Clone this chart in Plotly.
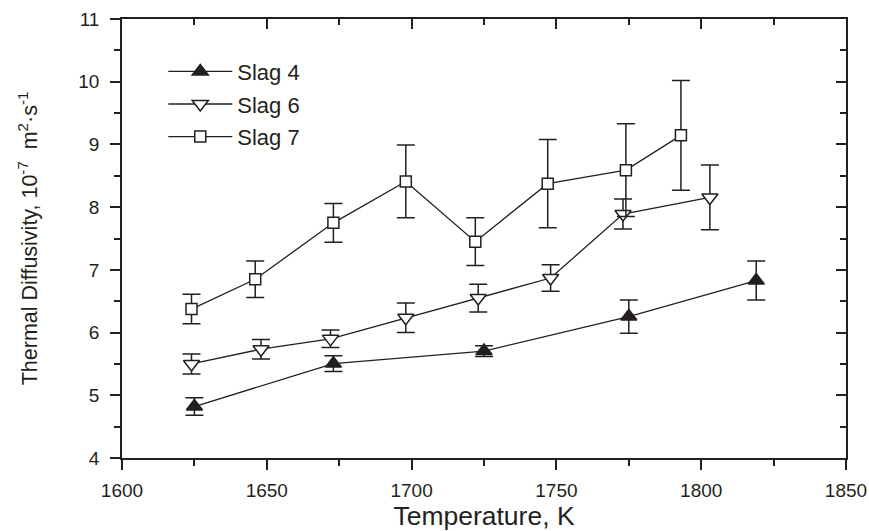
import plotly.graph_objects as go

# ---- data ----
T4 = [1625, 1673, 1725, 1775, 1819]
D4 = [4.82, 5.505, 5.705, 6.255, 6.83]
E4 = [0.14, 0.125, 0.085, 0.265, 0.31]

T6 = [1624, 1648, 1672, 1698, 1723, 1748, 1773, 1803]
D6 = [5.50, 5.735, 5.90, 6.235, 6.55, 6.87, 7.89, 8.155]
E6 = [0.16, 0.155, 0.14, 0.235, 0.22, 0.21, 0.24, 0.515]

T7 = [1624, 1646, 1673, 1698, 1722, 1747, 1774, 1793]
D7 = [6.375, 6.85, 7.75, 8.41, 7.45, 8.375, 8.59, 9.145]
E7 = [0.235, 0.29, 0.31, 0.58, 0.38, 0.705, 0.74, 0.875]

series_names = ["Slag 4", "Slag 6", "Slag 7"]
x_range = [1600, 1850]
y_range = [4, 11]

INK = "#231f20"
FONT = "Liberation Sans, Arial, sans-serif"

fig = go.Figure()


def add_series(x, y, e, name, symbol, fill, size, group):
    fig.add_trace(go.Scatter(
        x=x, y=y, name=name, mode="lines+markers", legendgroup=group,
        line=dict(color=INK, width=1.3),
        marker=dict(symbol=symbol, size=size, color=fill,
                    line=dict(color=INK, width=1.5)),
        error_y=dict(type="data", array=e, visible=True, color=INK,
                     thickness=1.5, width=9),
    ))


add_series(T4, D4, E4, series_names[0], "triangle-up", INK, 14, "g4")
add_series(T6, D6, E6, series_names[1], "triangle-down", "white", 14, "g6")
add_series(T7, D7, E7, series_names[2], "square", "white", 11, "g7")

# dummy trace so the mirrored (top/right) axes are drawn
fig.add_trace(go.Scatter(x=[T4[0]], y=[D4[0]], xaxis="x2", yaxis="y2",
                         mode="markers", marker=dict(opacity=0),
                         showlegend=False, hoverinfo="skip"))

axis_common = dict(showline=True, linecolor=INK, linewidth=1.5,
                   showgrid=False, zeroline=False, tickcolor=INK,
                   tickwidth=1.5, automargin=False)

fig.update_layout(
    width=869, height=531,
    margin=dict(l=122, r=23, t=19, b=73),
    paper_bgcolor="white", plot_bgcolor="white",
    font=dict(family=FONT, color=INK),
    showlegend=True,
    legend=dict(x=0.057, y=0.928, xanchor="left", yanchor="top",
                font=dict(size=22, family=FONT, color=INK),
                bgcolor="rgba(0,0,0,0)", itemwidth=64,
                tracegroupgap=1),
    xaxis=dict(range=x_range, tick0=1600, dtick=50, ticks="outside",
               ticklen=10, tickfont=dict(size=19), ticklabelstandoff=4,
               minor=dict(dtick=25, ticks="outside", ticklen=6,
                          tickcolor=INK, tickwidth=1.5),
               title=dict(text="Temperature, K", font=dict(size=26.5),
                          standoff=8),
               **axis_common),
    yaxis=dict(range=y_range, tick0=4, dtick=1, ticks="outside",
               ticklen=10, tickfont=dict(size=19), ticklabelstandoff=7,
               minor=dict(dtick=0.5, ticks="outside", ticklen=6,
                          tickcolor=INK, tickwidth=1.5),
               title=dict(text="Thermal Diffusivity, 10<sup>-7</sup>&nbsp; m<sup>2</sup>·s<sup>-1</sup>",
                          font=dict(size=21.5), standoff=35),
               **axis_common),
    xaxis2=dict(range=x_range, overlaying="x", side="top", tick0=1600,
                dtick=50, ticks="inside", ticklen=10, showticklabels=False,
                minor=dict(dtick=25, ticks="inside", ticklen=6,
                           tickcolor=INK, tickwidth=1.5),
                **axis_common),
    yaxis2=dict(range=y_range, overlaying="y", side="right", tick0=4,
                dtick=1, ticks="inside", ticklen=10, showticklabels=False,
                minor=dict(dtick=0.5, ticks="inside", ticklen=6,
                           tickcolor=INK, tickwidth=1.5),
                **axis_common),
)

fig.write_html("out.html")
